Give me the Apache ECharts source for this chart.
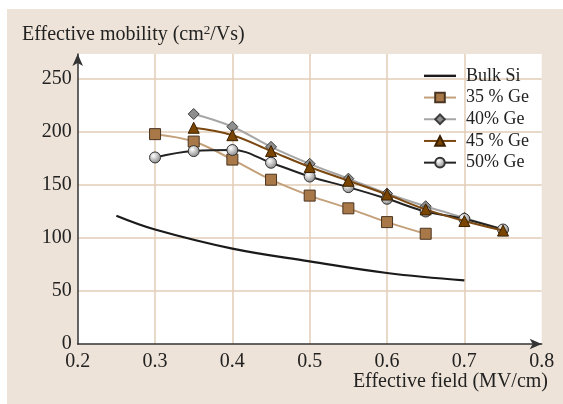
<!DOCTYPE html>
<html>
<head>
<meta charset="utf-8">
<script src="https://cdn.jsdelivr.net/npm/echarts@6/dist/echarts.min.js"></script>
<style>
  html, body { margin: 0; padding: 0; background: #ffffff; }
  #panel { position: absolute; left: 7px; top: 9px; width: 556px; height: 395px; background: #EDE3D8; }
  #chart { position: absolute; left: 0; top: 0; width: 563px; height: 404px; }
</style>
</head>
<body>
<div id="panel"></div>
<div id="chart"></div>
<script>
// Effective mobility (cm²/Vs) versus effective field (MV/cm)
const seriesNames = ['Bulk Si', '35 % Ge', '40% Ge', '45 % Ge', '50% Ge'];

const fieldBulk = [0.25, 0.3, 0.4, 0.5, 0.6, 0.7];
const mobilityBulk = [121, 108, 90, 78, 67, 60];

const field35 = [0.3, 0.35, 0.4, 0.45, 0.5, 0.55, 0.6, 0.65];
const mobility35 = [198, 191, 174, 155, 140, 128, 115, 104];

const field40 = [0.35, 0.4, 0.45, 0.5, 0.55, 0.6, 0.65, 0.7, 0.75];
const mobility40 = [217, 205, 186, 170, 156, 142, 130, 119, 108];

const field45 = [0.35, 0.4, 0.45, 0.5, 0.55, 0.6, 0.65, 0.7, 0.75];
const mobility45 = [204, 197, 182, 167, 154, 141, 127, 116, 107];

const field50 = [0.3, 0.35, 0.4, 0.45, 0.5, 0.55, 0.6, 0.65, 0.7, 0.75];
const mobility50 = [176, 182, 183, 171, 158, 148, 137, 125, 118, 108];

const xTicks = { min: 0.2, max: 0.8, step: 0.1 };
const yTicks = { min: 0, max: 273.6, step: 50 };

const pairs = (xs, ys) => xs.map((x, i) => [x, ys[i]]);

const serif = 'Liberation Serif, Times New Roman, serif';
const gridColor = '#E2CDB6';
const axisColor = '#333333';

const chart = echarts.init(document.getElementById('chart'), null, { renderer: 'canvas' });

chart.setOption({
  backgroundColor: 'transparent',
  animation: false,
  grid: {
    left: 77.7, right: 21.3, top: 54, bottom: 60,
    show: true, backgroundColor: '#ffffff', borderWidth: 0
  },
  legend: {
    data: [
      { name: seriesNames[0], icon: 'path://M0,0 L32,0 L32,2.4 L0,2.4 Z', itemStyle: { color: '#1a1a1a' } },
      seriesNames[1], seriesNames[2], seriesNames[3], seriesNames[4]
    ],
    orient: 'vertical',
    left: 423, top: 65,
    padding: 0,
    itemGap: 0,
    itemWidth: 32,
    itemHeight: 12,
    textStyle: { fontFamily: serif, fontSize: 18, color: '#222', lineHeight: 21.7, padding: [0, 0, 0, 5] }
  },
  xAxis: {
    type: 'value',
    min: xTicks.min, max: xTicks.max, interval: xTicks.step,
    axisLine: { show: true, symbol: ['none', 'arrow'], symbolSize: [8, 12], lineStyle: { color: axisColor, width: 1.5 } },
    axisTick: { show: false },
    axisLabel: { margin: 8, fontFamily: serif, fontSize: 20, color: '#222', formatter: v => v.toFixed(1) },
    splitLine: { show: true, showMinLine: false, showMaxLine: false, lineStyle: { color: gridColor, width: 1.5 } }
  },
  yAxis: {
    type: 'value',
    min: yTicks.min, max: yTicks.max, interval: yTicks.step,
    axisLine: { show: true, symbol: ['none', 'arrow'], symbolSize: [8, 12], lineStyle: { color: axisColor, width: 1.5 } },
    axisTick: { show: false },
    axisLabel: { margin: 6, fontFamily: serif, fontSize: 20, color: '#222', showMaxLabel: false },
    splitLine: { show: true, showMinLine: false, showMaxLine: false, lineStyle: { color: gridColor, width: 1.5 } }
  },
  graphic: [
    {
      type: 'text', left: 22, top: 24,
      style: {
        text: '{t|Effective mobility (cm}{s|2}{t|/Vs)}',
        rich: {
          t: { fontFamily: serif, fontSize: 20, fill: '#222' },
          s: { fontFamily: serif, fontSize: 13, fill: '#222', padding: [0, 0, 9, 0] }
        }
      }
    },
    {
      type: 'text', right: 15, top: 372,
      style: { text: 'Effective field (MV/cm)', fontFamily: serif, fontSize: 20, fill: '#222' }
    }
  ],
  series: [
    {
      name: seriesNames[0], type: 'line', smooth: 0.4, showSymbol: false, symbol: 'none',
      data: pairs(fieldBulk, mobilityBulk),
      lineStyle: { color: '#1a1a1a', width: 2.2 },
      itemStyle: { color: '#1a1a1a' }, z: 2
    },
    {
      name: seriesNames[1], type: 'line', smooth: 0.4,
      data: pairs(field35, mobility35),
      symbol: 'rect', symbolSize: 11,
      lineStyle: { color: '#C4A07A', width: 2 },
      itemStyle: { color: '#A87848', borderColor: '#4A3522', borderWidth: 1 }, z: 3
    },
    {
      name: seriesNames[2], type: 'line', smooth: 0.4,
      data: pairs(field40, mobility40),
      symbol: 'diamond', symbolSize: 11,
      lineStyle: { color: '#A6A6A6', width: 2 },
      itemStyle: { color: '#8E8E8E', borderColor: '#3E3E3E', borderWidth: 1 }, z: 4
    },
    {
      name: seriesNames[4], type: 'line', smooth: 0.4,
      data: pairs(field50, mobility50),
      symbol: 'circle', symbolSize: 11,
      lineStyle: { color: '#222', width: 2 },
      itemStyle: {
        color: { type: 'radial', x: 0.38, y: 0.35, r: 0.7, colorStops: [{ offset: 0, color: '#ffffff' }, { offset: 1, color: '#808080' }] },
        borderColor: '#333', borderWidth: 1
      }, z: 5
    },
    {
      name: seriesNames[3], type: 'line', smooth: 0.4,
      data: pairs(field45, mobility45),
      symbol: 'triangle', symbolSize: 11,
      lineStyle: { color: '#7A4810', width: 2 },
      itemStyle: { color: '#7A4500', borderColor: '#3A2000', borderWidth: 1 }, z: 6
    }
  ]
});
</script>
</body>
</html>
